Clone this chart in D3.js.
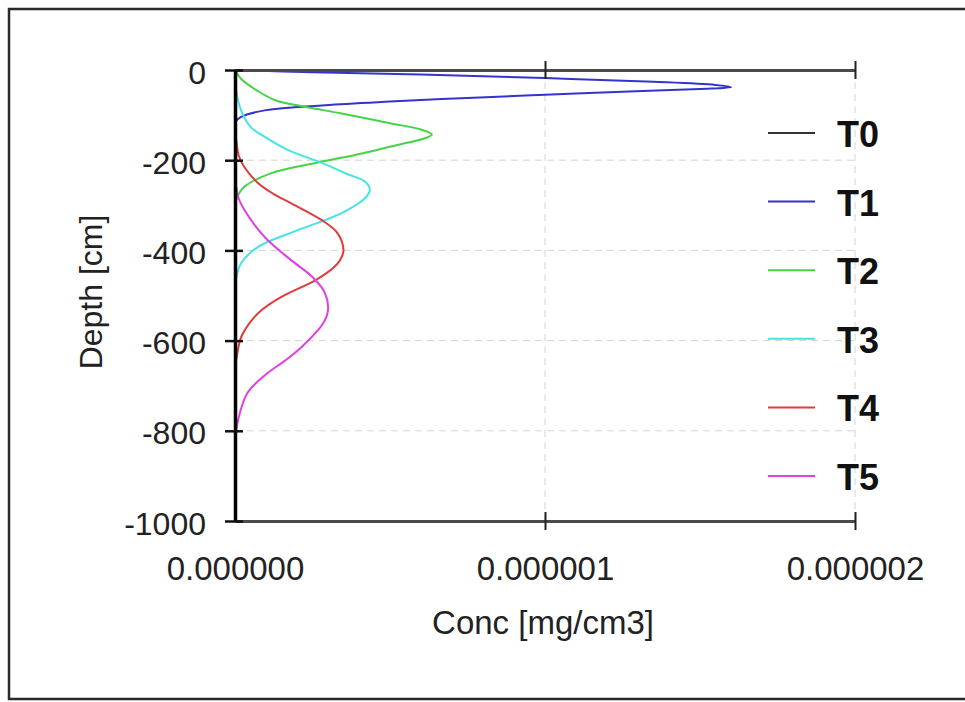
<!DOCTYPE html>
<html>
<head>
<meta charset="utf-8">
<script src="https://cdn.jsdelivr.net/npm/d3@7"></script>
<style>
  html, body { margin: 0; padding: 0; background: #fff; }
  svg { display: block; }
  text { font-family: "Liberation Sans", Arial, sans-serif; }
</style>
</head>
<body>
<svg id="chart" width="965" height="702"></svg>
<script>
// Concentration profiles (mg/cm3) against depth (cm) for each time step
const seriesNames = ["T0", "T1", "T2", "T3", "T4", "T5"];
const seriesColors = ["#333333", "#3434cc", "#44d444", "#44e4e4", "#e03a3a", "#e040e0"];

const t0Depth = [0, -1000];
const t0Conc  = [0, 0];

const t1Depth = [0, -5, -10, -18, -26, -33, -38, -42, -48, -55, -62, -70, -78, -89, -104, -118, -1000];
const t1Conc  = [0, 0.25e-6, 0.6e-6, 1.0e-6, 1.35e-6, 1.55e-6, 1.60e-6, 1.5e-6, 1.25e-6, 1.0e-6, 0.75e-6, 0.5e-6, 0.29e-6, 0.1e-6, 0.02e-6, 0, 0];

const t2Depth = [0, -20, -45, -67, -82, -96, -118, -132, -143, -152, -162, -188, -206, -228, -259, -285, -300, -1000];
const t2Conc  = [0, 0.02e-6, 0.07e-6, 0.13e-6, 0.23e-6, 0.34e-6, 0.5e-6, 0.6e-6, 0.635e-6, 0.61e-6, 0.55e-6, 0.39e-6, 0.26e-6, 0.12e-6, 0.03e-6, 0.005e-6, 0, 0];

const t3Depth = [0, -50, -90, -126, -150, -177, -206, -230, -248, -265, -280, -295, -315, -333, -361, -392, -428, -465, -490, -1000];
const t3Conc  = [0, 0.005e-6, 0.02e-6, 0.05e-6, 0.1e-6, 0.17e-6, 0.28e-6, 0.36e-6, 0.42e-6, 0.435e-6, 0.425e-6, 0.4e-6, 0.35e-6, 0.29e-6, 0.18e-6, 0.075e-6, 0.02e-6, 0.003e-6, 0, 0];

const t4Depth = [0, -130, -160, -190, -215, -251, -275, -295, -333, -361, -400, -420, -437, -466, -503, -530, -554, -592, -630, -665, -1000];
const t4Conc  = [0, 0, 0.005e-6, 0.012e-6, 0.03e-6, 0.075e-6, 0.125e-6, 0.18e-6, 0.28e-6, 0.33e-6, 0.35e-6, 0.34e-6, 0.32e-6, 0.26e-6, 0.15e-6, 0.09e-6, 0.055e-6, 0.02e-6, 0.007e-6, 0, 0];

const t5Depth = [0, -240, -259, -285, -310, -345, -377, -421, -459, -494, -532, -561, -614, -645, -672, -716, -776, -820, -1000];
const t5Conc  = [0, 0, 0.004e-6, 0.012e-6, 0.03e-6, 0.065e-6, 0.105e-6, 0.18e-6, 0.25e-6, 0.29e-6, 0.30e-6, 0.285e-6, 0.215e-6, 0.16e-6, 0.105e-6, 0.04e-6, 0.01e-6, 0, 0];

const xTickValues = [0, 1e-6, 2e-6];
const yTickValues = [0, -200, -400, -600, -800, -1000];
const xTitle = "Conc [mg/cm3]";
const yTitle = "Depth [cm]";

const seriesDepths = [t0Depth, t1Depth, t2Depth, t3Depth, t4Depth, t5Depth];
const seriesConcs  = [t0Conc, t1Conc, t2Conc, t3Conc, t4Conc, t5Conc];

const svg = d3.select("#chart");
const FONT = 32;
const XFONT = 33;

// outer frame
svg.append("rect")
  .attr("x", 9).attr("y", 9).attr("width", 970).attr("height", 690)
  .attr("fill", "none").attr("stroke", "#2a2a2a").attr("stroke-width", 2.5);

const x = d3.scaleLinear().domain([0, 2e-6]).range([235, 855]);
const y = d3.scaleLinear().domain([0, -1000]).range([70, 521]);

// plot-area clip so the curves stay inside the axes
svg.append("defs").append("clipPath").attr("id", "plot-clip")
  .append("rect")
  .attr("x", x(0)).attr("y", y(0) - 2)
  .attr("width", x(2e-6) - x(0)).attr("height", y(-1000) - y(0) + 4);

// dashed grid
const grid = svg.append("g").attr("stroke", "#d4d4d4").attr("stroke-width", 1)
  .attr("stroke-dasharray", "7,5").attr("fill", "none");
grid.selectAll("line.v").data(xTickValues.slice(1)).join("line")
  .attr("x1", d => x(d)).attr("x2", d => x(d))
  .attr("y1", y(0)).attr("y2", y(-1000));
grid.selectAll("line.h").data(yTickValues.slice(1, -1)).join("line")
  .attr("x1", x(0)).attr("x2", x(2e-6))
  .attr("y1", d => y(d)).attr("y2", d => y(d));

// curves
const line = d3.line()
  .x(d => x(d[1]))
  .y(d => y(d[0]))
  .curve(d3.curveCatmullRom.alpha(0.5));

const curves = svg.append("g").attr("clip-path", "url(#plot-clip)");
seriesNames.forEach((name, i) => {
  const pts = seriesDepths[i].map((dep, k) => [dep, seriesConcs[i][k]]);
  curves.append("path")
    .datum(pts)
    .attr("d", line)
    .attr("fill", "none")
    .attr("stroke", seriesColors[i])
    .attr("stroke-width", 2);
});

// top and bottom horizontal axes
function hAxis(gen, yPos) {
  const g = svg.append("g").attr("transform", `translate(0,${yPos})`)
    .call(gen.tickValues(xTickValues).tickFormat(d3.format(".6f")).tickSizeOuter(0));
  g.select(".domain").attr("stroke", "#4a4a4a").attr("stroke-width", 3);
  g.selectAll(".tick line").attr("y1", -9).attr("y2", 9)
    .attr("stroke", "#222").attr("stroke-width", 2);
  return g;
}
const topAxis = hAxis(d3.axisTop(x), y(0));
topAxis.selectAll(".tick text").remove();
topAxis.selectAll(".tick").filter(d => d === 0).select("line").remove();

const bottomAxis = hAxis(d3.axisBottom(x), y(-1000));
bottomAxis.selectAll(".tick").filter(d => d === 0).select("line").remove();
bottomAxis.selectAll(".tick text")
  .attr("y", 59).attr("dy", 0)
  .attr("font-size", XFONT).attr("fill", "#222");

// left axis
const leftAxis = svg.append("g").attr("transform", `translate(${x(0)},0)`)
  .call(d3.axisLeft(y).tickValues(yTickValues).tickFormat(d => String(d)).tickSizeOuter(0));
leftAxis.select(".domain").attr("stroke", "#000").attr("stroke-width", 3.5);
leftAxis.selectAll(".tick line").attr("x1", -10).attr("x2", 8)
  .attr("stroke", "#111").attr("stroke-width", 2.5);
leftAxis.selectAll(".tick text")
  .attr("x", -29).attr("dy", "0.41em")
  .attr("font-size", FONT).attr("fill", "#222");

// axis titles
svg.append("text")
  .attr("x", 543).attr("y", 634)
  .attr("text-anchor", "middle").attr("font-size", XFONT).attr("fill", "#222")
  .text(xTitle);
svg.append("text")
  .attr("transform", "translate(102,292) rotate(-90)")
  .attr("text-anchor", "middle").attr("font-size", FONT).attr("fill", "#222")
  .text(yTitle);

// legend
const legend = svg.append("g");
seriesNames.forEach((name, i) => {
  const ly = 133 + i * 68.6;
  legend.append("line")
    .attr("x1", 768).attr("x2", 815).attr("y1", ly).attr("y2", ly)
    .attr("stroke", seriesColors[i]).attr("stroke-width", 2);
  legend.append("text")
    .attr("x", 837).attr("y", ly + 14)
    .attr("font-size", 36).attr("font-weight", "bold").attr("fill", "#111")
    .text(name);
});
</script>
</body>
</html>
